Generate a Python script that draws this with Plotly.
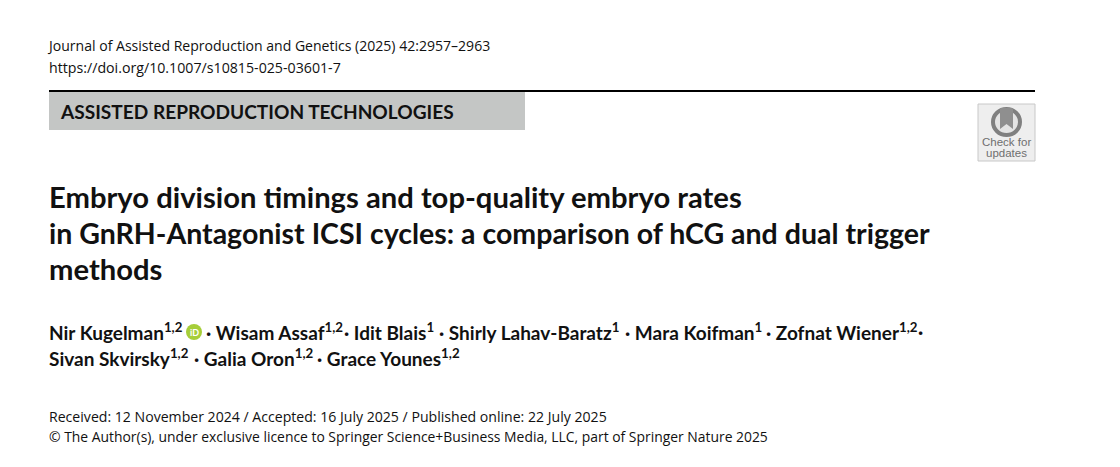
import plotly.graph_objects as go

# text of the page
journal_lines = ["Journal of Assisted Reproduction and Genetics (2025) 42:2957–2963",
                 "https://doi.org/10.1007/s10815-025-03601-7"]
section = "ASSISTED REPRODUCTION TECHNOLOGIES"
title_lines = ["Embryo division timings and top-quality embryo rates",
               "in GnRH-Antagonist ICSI cycles: a comparison of hCG and dual trigger",
               "methods"]
authors_1 = ["Nir Kugelman<sup>1,2</sup>", "· Wisam Assaf<sup>1,2</sup>", "· Idit Blais<sup>1</sup>",
             "· Shirly Lahav-Baratz<sup>1</sup>", "· Mara Koifman<sup>1</sup>",
             "· Zofnat Wiener<sup>1,2</sup>", "·"]
authors_2 = ["Sivan Skvirsky<sup>1,2</sup>", "· Galia Oron<sup>1,2</sup>", "· Grace Younes<sup>1,2</sup>"]
dates = ["Received: 12 November 2024 / Accepted: 16 July 2025 / Published online: 22 July 2025",
         "© The Author(s), under exclusive licence to Springer Science+Business Media, LLC, part of Springer Nature 2025"]

REG = "Open Sans"
BOLD = "Lato"

fig = go.Figure()


def add_text(x, y, text, size, family=REG, color="#111111", anchor="left", bold=False):
    fig.add_annotation(x=x, y=y, text=f"<b>{text}</b>" if bold else text, showarrow=False,
                       xanchor=anchor, yanchor="middle", align=anchor,
                       font=dict(family=family, size=size, color=color))


for x, y, size, line in zip([45, 47], [45, 67], [14.05, 14.2], journal_lines):
    add_text(x, y, line, size)

# rule and section band
fig.add_shape(type="line", x0=49, x1=1035, y0=91, y1=91, line=dict(color="#000000", width=2))
fig.add_shape(type="rect", x0=49, x1=525, y0=92, y1=130, fillcolor="#c4c6c5", line_width=0)
add_text(58, 111, section, 19.1, family=BOLD, bold=True)

# check for updates badge
fig.add_shape(type="rect", x0=978, x1=1035, y0=104, y1=161, fillcolor="#eeeeee",
              line=dict(color="#c8c8c8", width=1))
fig.add_shape(type="circle", x0=993, x1=1020, y0=109, y1=135, fillcolor="#e4e4e4",
              line=dict(color="#808080", width=4))
fig.add_shape(type="path", path="M 1000 108 L 1013 108 L 1013 129 L 1006.5 124 L 1000 129 Z",
              fillcolor="#8f8f8f", line_width=0)
add_text(1006.5, 142, "Check for", 11.5, family="Liberation Sans", color="#6f6f6f", anchor="center")
add_text(1006.5, 153, "updates", 11.5, family="Liberation Sans", color="#6f6f6f", anchor="center")

for y, size, line in zip([196.5, 232.5, 268.5], [29.2, 28.5, 29.2], title_lines):
    add_text(47, y, line, size, family=BOLD, bold=True)

for x, name in zip([47, 204, 342, 437, 623, 764, 916], authors_1):
    add_text(x, 331, name, 19, family=BOLD, bold=True)
for x, name in zip([47, 192, 315], authors_2):
    add_text(x, 357, name, 19, family=BOLD, bold=True)

# orcid mark
fig.add_shape(type="circle", x0=186, x1=202, y0=324, y1=340, fillcolor="#a6ce39", line_width=0)
add_text(194, 332, "iD", 9, family=BOLD, color="#ffffff", anchor="center", bold=True)

for y, size, line in zip([416, 436], [14.1, 13.9], dates):
    add_text(47, y, line, size)

fig.update_xaxes(range=[0, 1120], visible=False, fixedrange=True)
fig.update_yaxes(range=[467, 0], visible=False, fixedrange=True)
fig.update_layout(width=1120, height=467, margin=dict(l=0, r=0, t=0, b=0),
                  paper_bgcolor="white", plot_bgcolor="white", showlegend=False)

# page body has a default margin that would shift the picture
fig.write_html("out.html", config={"displayModeBar": False},
               post_script="document.body.style.margin = '0';")
